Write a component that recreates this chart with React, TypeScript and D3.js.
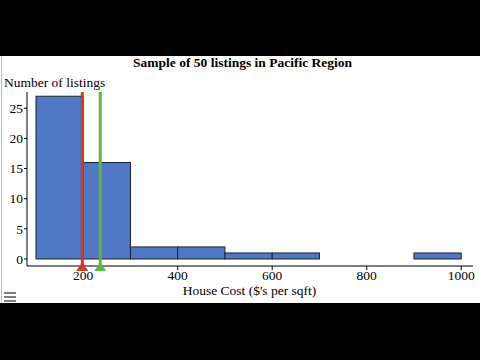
import React from "react";
import * as d3 from "d3";

const binStarts = [100, 200, 300, 400, 500, 600, 900];
const binCounts = [27, 16, 2, 2, 1, 1, 1];
const binWidth = 100;
const xTicks = [200, 400, 600, 800, 1000];
const yTicks = [0, 5, 10, 15, 20, 25];
const medianValue = 198;
const meanValue = 236;
const title = "Sample of 50 listings in Pacific Region";
const xTitle = "House Cost ($'s per sqft)";
const yTitle = "Number of listings";

export default function App() {
  const W = 480, H = 360;
  const x = d3.scaleLinear().domain([81, 1025]).range([27, 473]);
  const y = d3.scaleLinear().domain([0, 27.7]).range([259, 92]);
  const axisY = 266;
  const font = "'Liberation Serif', 'Times New Roman', serif";
  const bars = binStarts.map((s, i) => ({ s, e: s + binWidth, c: binCounts[i] }));
  const tri = (cx: number) => `M${cx - 6},${axisY + 5} L${cx + 6},${axisY + 5} L${cx},${axisY - 4} Z`;
  return (
    <svg width={W} height={H} style={{ position: "absolute", left: 0, top: 0, display: "block" }}>
      <rect x={0} y={0} width={W} height={H} fill="#000" />
      <rect x={0} y={56} width={W} height={247} fill="#fff" />
      <line x1={1.5} x2={1.5} y1={56} y2={303} stroke="#bbb" strokeWidth={1} />
      <text x={242.5} y={67} textAnchor="middle" fontFamily={font} fontWeight="bold" fontSize={13.5} fill="#000">{title}</text>
      <text x={4} y={87} fontFamily={font} fontSize={13.5} fill="#000">{yTitle}</text>
      {bars.map((b, i) => (
        <rect key={i} x={x(b.s)} y={y(b.c)} width={x(b.e) - x(b.s)} height={y(0) - y(b.c)}
          fill="#5078c4" stroke="#1c2233" strokeWidth={1} />
      ))}
      {/* y axis */}
      <line x1={27} x2={27} y1={92} y2={axisY} stroke="#000" strokeWidth={1} />
      {yTicks.map(t => (
        <g key={t}>
          <line x1={24} x2={27} y1={y(t)} y2={y(t)} stroke="#000" />
          <text x={23} y={y(t)} dy="0.35em" textAnchor="end" fontFamily={font} fontSize={13.5} fill="#000">{t}</text>
        </g>
      ))}
      {/* x axis */}
      <line x1={27} x2={473} y1={axisY} y2={axisY} stroke="#000" strokeWidth={1} />
      {xTicks.map(t => (
        <g key={t}>
          <line x1={x(t)} x2={x(t)} y1={axisY} y2={axisY + 4} stroke="#000" />
          <text x={x(t)} y={axisY + 9} dy="0.35em" textAnchor="middle" fontFamily={font} fontSize={13.5} fill="#000">{t}</text>
        </g>
      ))}
      <text x={249.5} y={295} textAnchor="middle" fontFamily={font} fontSize={13.5} fill="#000">{xTitle}</text>
      {/* median & mean markers */}
      <line x1={x(medianValue)} x2={x(medianValue)} y1={92} y2={axisY} stroke="#d23b26" strokeWidth={3} />
      <path d={tri(x(medianValue))} fill="#d23b26" />
      <line x1={x(meanValue)} x2={x(meanValue)} y1={92} y2={axisY} stroke="#62b446" strokeWidth={3} />
      <path d={tri(x(meanValue))} fill="#62b446" />
      {/* menu icon */}
      {[293, 297, 301].map(yy => (
        <line key={yy} x1={4} x2={16} y1={yy} y2={yy} stroke="#555" strokeWidth={1.5} />
      ))}
    </svg>
  );
}
